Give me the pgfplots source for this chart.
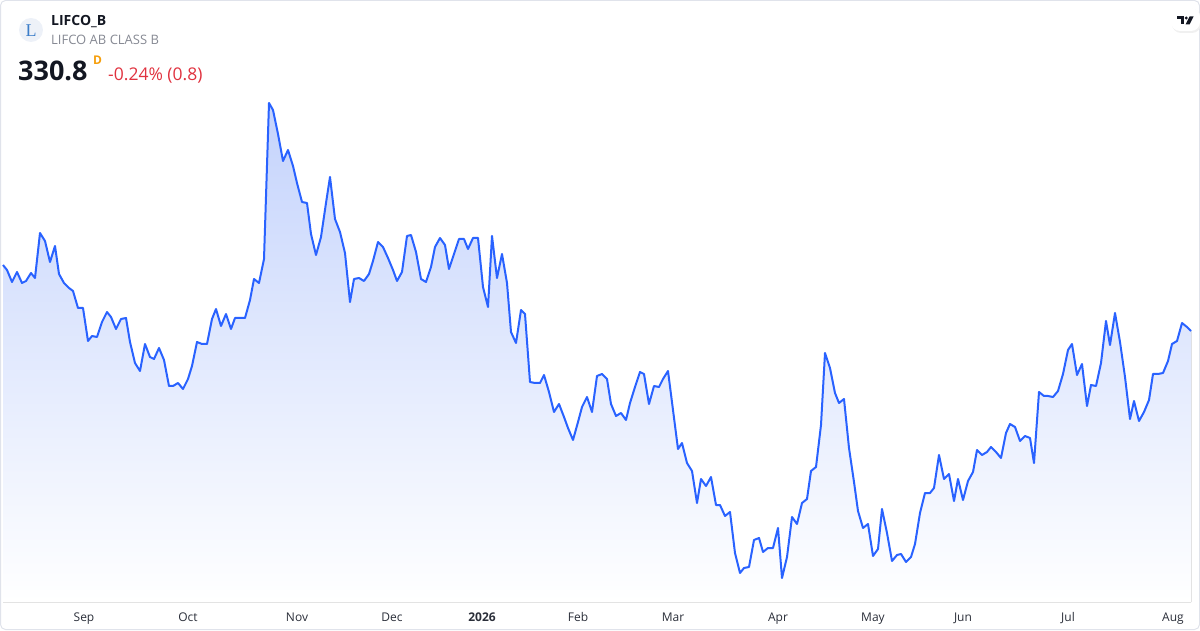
\documentclass[border=0pt]{standalone}
\usepackage{pgfplots}
\pgfplotsset{compat=1.18}
\usepackage{pgfplotstable}
\usepgfplotslibrary{fillbetween}
\usepackage{fontspec}
\setmainfont{Open Sans}
\definecolor{tvblue}{HTML}{2962FF}
\definecolor{areatop}{HTML}{C4D3FC}
\definecolor{areabot}{HTML}{FFFFFF}
\definecolor{tvred}{HTML}{E0323F}
\definecolor{tvorange}{HTML}{F59E0B}
\definecolor{tvgrey}{HTML}{868993}
\definecolor{tvtext}{HTML}{131722}
\definecolor{tvaxis}{HTML}{2A2E39}
\definecolor{frame}{HTML}{E0E3EB}
\definecolor{logobg}{HTML}{EDF1F8}
\definecolor{logoL}{HTML}{3B7DC9}
\tikzset{month/.style={anchor=base, text=tvaxis, font=\fontsize{12}{14}\selectfont, inner sep=0}}

% x = horizontal position (px), y = vertical position (px from top); the chart has no price scale
\pgfplotstableread{
x y
3 265
7 270
12 282
17 272
22 283
26 281
31 273
35 278
40 233
45 241
50 262
55 246
59 274
64 283
69 288
73 291
78 308
83 308
88 341
92 336
97 337
102 322
107 312
111 317
116 329
121 319
126 318
130 342
135 363
140 371
145 344
150 357
154 359
159 348
164 360
169 386
173 386
178 383
183 389
188 379
192 366
197 342
202 344
207 344
212 319
216 309
221 326
226 314
231 329
235 318
240 318
245 318
250 300
254 279
259 283
264 259
269 103
273 110
278 134
283 161
288 150
293 166
297 183
302 202
307 203
311 234
316 255
321 237
326 203
330 177
335 219
340 232
345 253
350 302
354 279
359 278
364 281
369 274
373 261
378 242
383 247
388 258
393 270
397 281
402 272
407 236
411 235
416 252
421 279
426 282
431 267
435 247
440 238
445 245
449 269
454 254
459 239
464 239
468 249
473 238
478 238
483 287
488 307
492 236
497 278
502 254
507 283
511 332
516 343
521 310
525 314
530 382
535 383
540 383
544 375
549 392
554 412
559 404
564 417
568 428
573 440
578 422
582 407
587 397
592 412
597 376
602 374
607 379
611 404
616 416
621 413
626 420
630 403
635 387
640 372
644 374
649 404
654 386
659 387
663 379
668 371
673 410
678 449
682 443
687 463
692 471
697 503
701 479
706 486
711 477
716 505
720 505
725 516
730 512
735 553
740 573
744 568
749 567
754 540
759 538
763 552
768 548
773 548
778 528
782 578
787 557
792 517
797 524
802 503
807 499
811 471
816 467
821 425
825 353
830 368
835 393
839 403
844 399
849 448
854 482
858 511
863 528
868 524
873 556
878 549
882 509
887 533
892 561
897 555
901 554
906 562
911 557
915 544
920 513
925 493
930 493
934 488
939 455
944 479
949 474
954 501
958 479
963 500
968 481
973 472
977 450
982 455
987 452
991 447
996 452
1001 458
1006 433
1010 424
1015 427
1020 441
1025 436
1030 438
1034 463
1039 392
1044 396
1048 396
1053 397
1058 391
1063 374
1068 350
1072 344
1077 375
1082 364
1087 406
1091 385
1096 386
1101 363
1106 321
1110 345
1115 313
1120 342
1125 377
1130 419
1134 401
1139 421
1144 412
1149 400
1153 374
1158 374
1163 373
1168 361
1172 344
1177 341
1182 323
1187 327
1191 331
}\pricedata

\begin{document}
\begin{tikzpicture}
\begin{axis}[
  scale only axis, width=1200pt, height=630pt,
  xmin=0, xmax=1200, ymin=0, ymax=630, y dir=reverse,
  axis lines=none, clip=false,
]
% frame
\draw[frame, line width=1pt, rounded corners=5pt] (axis cs:0.5,0.5) rectangle (axis cs:1199.5,629.5);

\addplot[draw=none, name path=base, forget plot] coordinates {(3,602) (1191,602)};
\addplot[draw=none, name path=price, forget plot] table {\pricedata};
\addplot[top color=areatop, bottom color=areabot, draw=none, forget plot] fill between[of=price and base];
\addplot[tvblue, line width=2pt, line join=round, mark=none] table {\pricedata};

% header
\fill[logobg] (axis cs:31,30) circle (12pt);
\node[text=logoL, font=\fontsize{18}{18}\selectfont] at (axis cs:31,31) {\fontspec{Liberation Serif}L};
\node[anchor=base west, text=tvtext, font=\fontsize{14}{16}\selectfont\bfseries, inner sep=0] at (axis cs:51,26) {LIFCO\_B};
\node[anchor=base west, text=tvgrey, font=\fontsize{13}{15}\selectfont, inner sep=0] at (axis cs:51,45) {LIFCO AB CLASS B};
\node[anchor=base west, text=tvtext, font=\fontsize{27}{30}\selectfont\bfseries, inner sep=0] at (axis cs:18,81) {330.8};
\node[anchor=base west, text=tvorange, font=\fontsize{12}{14}\selectfont\bfseries, inner sep=0] at (axis cs:93,65) {D};
\node[anchor=base west, text=tvred, font=\fontsize{17.5}{19}\selectfont, inner sep=0] at (axis cs:108,81) {-0.24\% (0.8)};

% TradingView badge
\fill[black!6, rounded corners=9pt] (axis cs:1172,9) rectangle (axis cs:1201,33);
\fill[white, rounded corners=9pt] (axis cs:1171,8) rectangle (axis cs:1200,31);
\fill[tvtext] (axis cs:1177,16.5) rectangle (axis cs:1184,19.5);
\fill[tvtext] (axis cs:1180.5,16.5) rectangle (axis cs:1183.5,24.5);
\fill[tvtext] (axis cs:1186.2,18) circle (1.6pt);
\fill[tvtext] (axis cs:1189.5,16.5) -- (axis cs:1193.5,16.5) -- (axis cs:1189.5,24.5) -- (axis cs:1185.5,24.5) -- cycle;

% month labels
\node[month] at (axis cs:84,621) {Sep};
\node[month] at (axis cs:188,621) {Oct};
\node[month] at (axis cs:297,621) {Nov};
\node[month] at (axis cs:392,621) {Dec};
\node[month, font=\fontsize{12}{14}\selectfont\bfseries] at (axis cs:482,621) {2026};
\node[month] at (axis cs:578,621) {Feb};
\node[month] at (axis cs:673,621) {Mar};
\node[month] at (axis cs:778,621) {Apr};
\node[month] at (axis cs:873,621) {May};
\node[month] at (axis cs:963,621) {Jun};
\node[month] at (axis cs:1068,621) {Jul};
\node[month] at (axis cs:1173,621) {Aug};
\end{axis}
\pgfresetboundingbox
\path (0,0) rectangle (1200pt,630pt);
\end{tikzpicture}
\end{document}
